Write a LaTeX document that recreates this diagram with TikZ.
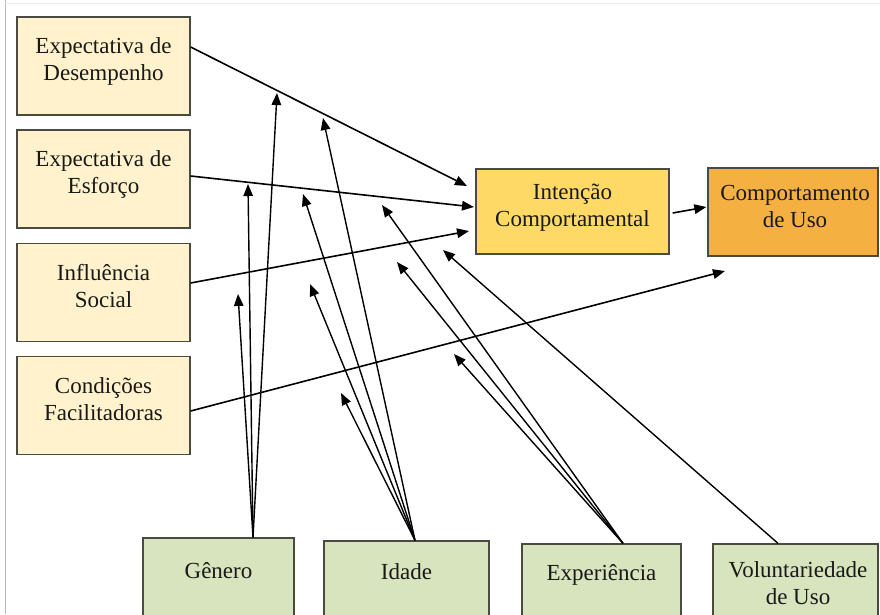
\documentclass[tikz,border=0pt]{standalone}
\usepackage{fontspec}
\setmainfont{Liberation Serif}
\usetikzlibrary{arrows.meta}
\definecolor{cream}{HTML}{FFF2CC}
\definecolor{gold}{HTML}{FFD966}
\definecolor{orng}{HTML}{F5B042}
\definecolor{olive}{HTML}{D7E4BD}
\definecolor{bord}{HTML}{4A4A40}
\tikzset{
  box/.style={draw=bord, line width=1.3pt, inner sep=0pt},
  lbox/.style={box, fill=cream, minimum width=173pt, minimum height=98pt},
  txt/.style={align=center, inner sep=0pt, text=black!90, font=\fontsize{23}{27}\selectfont},
  arr/.style={draw=black, line width=1.6pt, -{Triangle[length=12pt,width=9.5pt]}},
  mod/.style={draw=black, line width=1.4pt, -{Triangle[length=12pt,width=9.5pt]}}
}
\begin{document}
\begin{tikzpicture}[x=1pt,y=-1pt]
\useasboundingbox (0,0) rectangle (880,614);
\clip (0,0) rectangle (880,614);
\fill[white] (0,0) rectangle (880,614);
\draw[gray!55, line width=1pt] (5,0) -- (5,614);
\draw[gray!15, line width=1pt] (5,3) -- (880,3);

% left boxes
\node[lbox] (b1) at (103.5,66) {};
\node[lbox] (b2) at (103.5,179) {};
\node[lbox] (b3) at (103.5,292.5) {};
\node[lbox] (b4) at (103.5,405.5) {};
\node[txt] (b1t) at (103.5,61) {Expectativa de\\Desempenho};
\node[txt] (b2t) at (103.5,174) {Expectativa de\\Esforço};
\node[txt] (b3t) at (103.5,286) {Influência\\Social};
\node[txt] (b4t) at (103.5,399) {Condições\\Facilitadoras};

% central boxes
\node[box, fill=gold, minimum width=193pt, minimum height=85pt] (int) at (572.5,211.5) {};
\node[box, fill=orng, minimum width=170pt, minimum height=88pt] (cmp) at (793,212) {};
\node[txt] (intt) at (572.5,208) {Intenção\\Comportamental};
\node[txt] (cmpt) at (795,206) {Comportamento\\de Uso};

% bottom boxes
\node[box, fill=olive, minimum width=151pt, minimum height=102pt] (gen) at (218.5,589) {};
\node[box, fill=olive, minimum width=165pt, minimum height=99pt] (ida) at (406.5,590.5) {};
\node[box, fill=olive, minimum width=159pt, minimum height=96pt] (exp) at (601.5,592) {};
\node[box, fill=olive, minimum width=165pt, minimum height=96pt] (vol) at (795.5,592) {};
\node[txt] (gent) at (218.5,571) {Gênero};
\node[txt] (idat) at (406.5,572) {Idade};
\node[txt] (expt) at (601.5,575) {Experiência};
\node[txt] (volt) at (798,583) {Voluntariedade\\de Uso};

% arrow end points
\coordinate (e1) at (467,186);
\coordinate (e2) at (474,207);
\coordinate (e3) at (469,231);
\coordinate (e4) at (725,271);
\coordinate (m1) at (277,93);
\coordinate (m2) at (248,184);
\coordinate (m3) at (238,294);
\coordinate (m4) at (323,118);
\coordinate (m5) at (303,194);
\coordinate (m6) at (310,284);
\coordinate (m7) at (341,393);
\coordinate (m8) at (382,205);
\coordinate (m9) at (397,262);
\coordinate (m10) at (454,354);
\coordinate (m11) at (443,250);

% main arrows
\draw[arr] ([yshift=19pt]b1.east) -- (e1);
\draw[arr] ([yshift=3pt]b2.east) -- (e2);
\draw[arr] ([yshift=9.5pt]b3.east) -- (e3);
\draw[arr] ([yshift=-5.5pt]b4.east) -- (e4);
\draw[arr] ([xshift=3pt,yshift=-1.5pt]int.east) -- ([xshift=-1pt,yshift=5pt]cmp.west);

% moderators
\draw[mod] ([xshift=34.5pt]gen.north) -- (m1);
\draw[mod] ([xshift=34.5pt]gen.north) -- (m2);
\draw[mod] ([xshift=34.5pt]gen.north) -- (m3);
\draw[mod] ([xshift=8.5pt]ida.north) -- (m4);
\draw[mod] ([xshift=8.5pt]ida.north) -- (m5);
\draw[mod] ([xshift=8.5pt]ida.north) -- (m6);
\draw[mod] ([xshift=8.5pt]ida.north) -- (m7);
\draw[mod] ([xshift=21.5pt]exp.north) -- (m8);
\draw[mod] ([xshift=21.5pt]exp.north) -- (m9);
\draw[mod] ([xshift=21.5pt]exp.north) -- (m10);
\draw[mod] ([xshift=-17.5pt]vol.north) -- (m11);
\end{tikzpicture}
\end{document}
